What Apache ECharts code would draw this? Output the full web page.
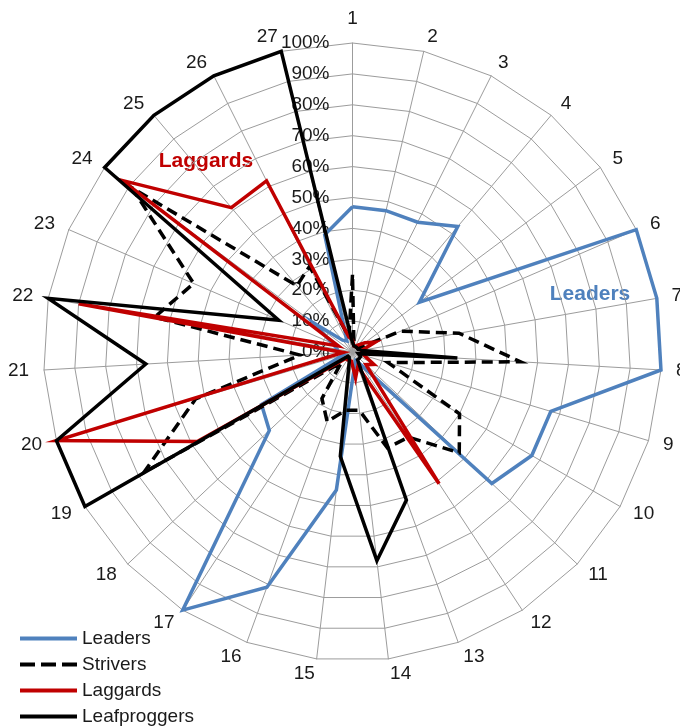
<!DOCTYPE html>
<html>
<head>
<meta charset="utf-8">
<script src="https://cdn.jsdelivr.net/npm/echarts/dist/echarts.min.js"></script>
<style>
html,body{margin:0;padding:0;background:#ffffff;}
#chart{width:680px;height:728px;}
</style>
</head>
<body>
<div id="chart"></div>
<script>
// ---- data ----
const categories = ['1','2','3','4','5','6','7','8','9','10','11','12','13','14','15','16','17','18','19','20','21','22','23','24','25','26','27'];
const tickLabels = ['0%','10%','20%','30%','40%','50%','60%','70%','80%','90%','100%'];
const seriesNames = ['Leaders','Strivers','Laggards','Leafproggers'];

const leaders      = [0.47,0.47,0.47,0.53,0.27,1.00,1.00,1.00,0.67,0.67,0.62,0.05,0.03,0.05,0.45,0.81,1.00,0.37,0.34,0.03,0.05,0.05,0.07,0.16,0.05,0.04,0.39];
const strivers     = [0.25,0.02,0.02,0.02,0.02,0.17,0.35,0.545,0.12,0.40,0.475,0.33,0.33,0.19,0.19,0.24,0.18,0.05,0.78,0.53,0.17,0.65,0.56,0.89,0.28,0.31,0.05];
const laggards     = [0.04,0.02,0.02,0.03,0.05,0.08,0.03,0.03,0.04,0.08,0.06,0.51,0.05,0.085,0.03,0.03,0.03,0.03,0.58,1.00,0.03,0.90,0.05,0.93,0.61,0.62,0.05];
const leafproggers = [0.03,0.02,0.02,0.02,0.02,0.02,0.03,0.34,0.02,0.03,0.03,0.03,0.51,0.68,0.34,0.03,0.02,0.02,1.00,1.00,0.67,1.00,0.26,1.00,1.00,1.00,1.00];

// ---- styles ----
const colors = {Leaders:'#4f81bd', Strivers:'#000000', Laggards:'#c00000', Leafproggers:'#000000'};
const FONT = 'Liberation Sans, Arial, sans-serif';

// ECharts radar places indicators counter-clockwise; the reference runs clockwise,
// so feed the axes in order 1, 27, 26, ..., 2.
const order = [0];
for (let i = categories.length - 1; i >= 1; i--) order.push(i);
const reorder = arr => order.map(i => arr[i]);

const indicator = order.map((i, k) => {
  const ind = {name: categories[i], min: 0, max: 1};
  if (k === 0) ind.axisLabel = {show: true};
  return ind;
});

const dashIcon = 'path://M0,0H15V4H0Z M21,0H36V4H21Z M42,0H57V4H42Z';

const seriesData = {Leaders: leaders, Strivers: strivers, Laggards: laggards, Leafproggers: leafproggers};

const series = seriesNames.map(n => ({
  type: 'radar',
  name: n,
  symbol: 'none',
  silent: true,
  lineStyle: {color: colors[n], width: 3.5, type: n === 'Strivers' ? [11, 6] : 'solid', cap: 'butt', join: 'miter'},
  itemStyle: {color: colors[n]},
  data: [{name: n, value: reorder(seriesData[n])}]
}));

const chart = echarts.init(document.getElementById('chart'), null, {renderer: 'canvas'});
chart.setOption({
  animation: false,
  backgroundColor: '#ffffff',
  radar: {
    center: [352.5, 352],
    radius: 309,
    startAngle: 90,
    shape: 'polygon',
    splitNumber: 10,
    nameGap: 15,
    indicator: indicator,
    axisName: {color: '#1a1a1a', fontSize: 19, fontFamily: FONT},
    splitLine: {lineStyle: {color: '#9c9c9c', width: 1}},
    splitArea: {show: false},
    axisLine: {lineStyle: {color: '#9c9c9c', width: 1}},
    axisTick: {show: false},
    axisLabel: {
      show: false,
      margin: 23,
      color: '#1a1a1a',
      fontSize: 19,
      fontFamily: FONT,
      formatter: v => tickLabels[Math.round(v * 10)]
    }
  },
  legend: {
    orient: 'vertical',
    left: 20,
    top: 629,
    height: 99,
    padding: 0,
    itemWidth: 57,
    itemHeight: 4,
    itemGap: 7,
    symbolKeepAspect: false,
    selectedMode: false,
    textStyle: {fontSize: 19, color: '#1a1a1a', fontFamily: FONT, lineHeight: 19},
    data: seriesNames.map(n => ({
      name: n,
      icon: n === 'Strivers' ? dashIcon : 'rect',
      itemStyle: {color: colors[n], borderWidth: 0}
    }))
  },
  graphic: [
    {type: 'text', x: 590, y: 294, silent: true,
     style: {text: 'Leaders', fill: colors.Leaders, font: 'bold 21px ' + FONT, align: 'center', verticalAlign: 'middle', textAlign: 'center', textVerticalAlign: 'middle'}},
    {type: 'text', x: 206, y: 161, silent: true,
     style: {text: 'Laggards', fill: colors.Laggards, font: 'bold 21px ' + FONT, align: 'center', verticalAlign: 'middle', textAlign: 'center', textVerticalAlign: 'middle'}}
  ],
  series: series
});
</script>
</body>
</html>
